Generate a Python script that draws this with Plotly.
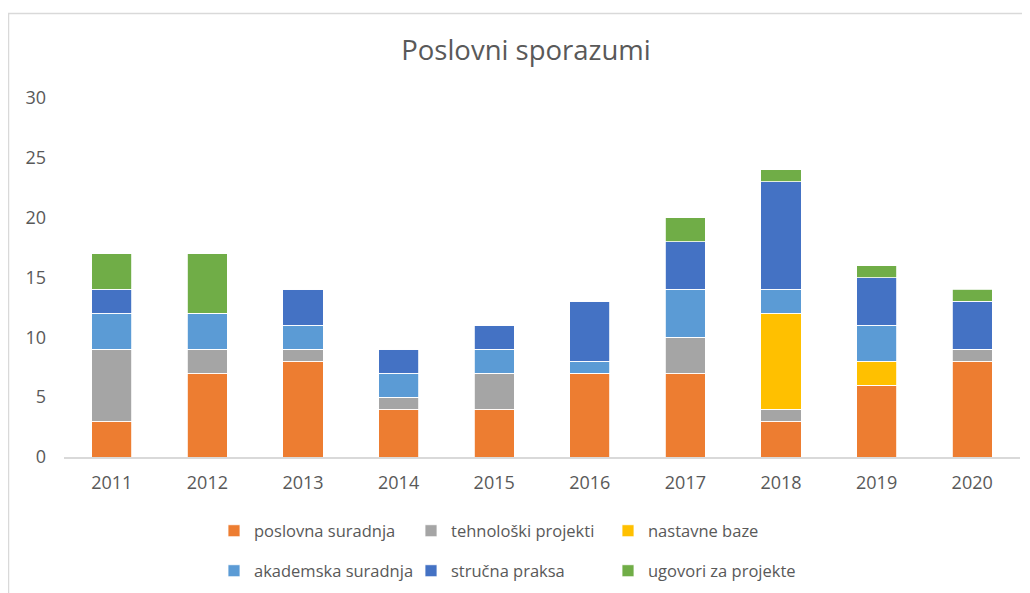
import plotly.graph_objects as go

years = ["2011", "2012", "2013", "2014", "2015", "2016", "2017", "2018", "2019", "2020"]
poslovna_suradnja = [3, 7, 8, 4, 4, 7, 7, 3, 6, 8]
tehnoloski_projekti = [6, 2, 1, 1, 3, 0, 3, 1, 0, 1]
nastavne_baze = [0, 0, 0, 0, 0, 0, 0, 8, 2, 0]
akademska_suradnja = [3, 3, 2, 2, 2, 1, 4, 2, 3, 0]
strucna_praksa = [2, 0, 3, 2, 2, 5, 4, 9, 4, 4]
ugovori_za_projekte = [3, 5, 0, 0, 0, 0, 2, 1, 1, 1]

series_names = ["poslovna suradnja", "tehnološki projekti", "nastavne baze",
                "akademska suradnja", "stručna praksa", "ugovori za projekte"]
series_values = [poslovna_suradnja, tehnoloski_projekti, nastavne_baze,
                 akademska_suradnja, strucna_praksa, ugovori_za_projekte]
series_colors = ["#ED7D31", "#A5A5A5", "#FFC000", "#5B9BD5", "#4472C4", "#70AD47"]

FONT = "Open Sans"
TXT = "#595959"
OFF = 8  # page body margin

W, H = 1030 - OFF, 593 - OFF
L, T = 64 - OFF, 98 - OFF
R = W - (1020 - OFF)
B = H - (457 - OFF)
pw, ph = W - L - R, H - T - B

def px_x(p):  # page px -> paper
    return (p - OFF - L) / pw

def px_y(p):
    return (H - B - (p - OFF)) / ph

# legend slot positions (page px): column x of legend box, row y centre
leg_cols = [214, 411, 608]
leg_rows = [531, 571]

fig = go.Figure()
legend_layouts = {}
for i, (name, vals, color) in enumerate(zip(series_names, series_values, series_colors)):
    key = "legend" if i == 0 else f"legend{i + 1}"
    fig.add_trace(go.Bar(
        x=years, y=vals, name=name, legend=key, showlegend=True,
        marker=dict(color=color, line=dict(color="white", width=0.8)),
    ))
    legend_layouts[key] = dict(
        orientation="h", x=px_x(leg_cols[i % 3]), xanchor="left",
        y=px_y(leg_rows[i // 3]), yanchor="middle", visible=True,
        font=dict(family=FONT, size=16.5, color=TXT),
        itemclick=False, bgcolor="rgba(0,0,0,0)",
    )

fig.update_layout(
    width=W, height=H,
    showlegend=True,
    margin=dict(l=L, r=R, t=T, b=B, autoexpand=False),
    barmode="stack",
    bargap=0.58,
    paper_bgcolor="white",
    plot_bgcolor="white",
    font=dict(family=FONT, color=TXT, size=16),
    title=dict(text="Poslovni sporazumi", x=(526 - OFF) / W, xanchor="center",
               y=1 - (50 - OFF) / H, yanchor="middle",
               font=dict(family=FONT, size=27.5, color=TXT)),
    xaxis=dict(showgrid=False, showline=True, linecolor="#D9D9D9", linewidth=1.5,
               ticks="", tickfont=dict(size=18, color=TXT), ticklabelstandoff=9),
    yaxis=dict(range=[0, 30], dtick=5, showgrid=False, showline=False, zeroline=False,
               ticks="", tickfont=dict(size=18, color=TXT), ticklabelstandoff=17),
    shapes=[dict(type="rect", xref="paper", yref="paper",
                 x0=px_x(8.5), x1=px_x(1100), y0=px_y(700), y1=px_y(13.5),
                 line=dict(color="#D9D9D9", width=1.5), fillcolor="rgba(0,0,0,0)", layer="below")],
    **legend_layouts,
)

fig.write_html("out.html")
